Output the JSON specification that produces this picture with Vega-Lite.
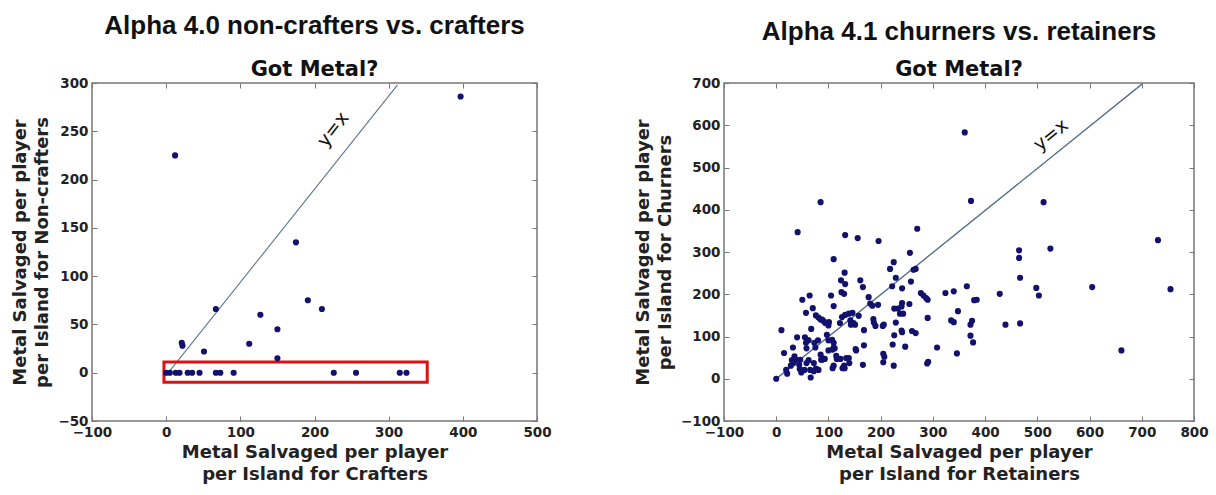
{
  "$schema": "https://vega.github.io/schema/vega-lite/v6.json",
  "background": "white",
  "padding": {"left": 11, "top": 12, "right": 5, "bottom": 5},
  "config": {
    "view": {"stroke": "#777", "strokeWidth": 1.5},
    "concat": {"spacing": 81},
    "axis": {
      "labelFont": "DejaVu Sans", "labelFontWeight": "bold", "labelFontSize": 13.5, "labelColor": "#222",
      "titleFont": "DejaVu Sans", "titleFontWeight": "bold", "titleFontSize": 18, "titleColor": "#222", "titleLineHeight": 22,
      "tickColor": "#777", "tickSize": -5, "tickWidth": 1, "domain": false, "grid": false,
      "labelPadding": 9, "labelFlush": false, "labelOverlap": false
    },
    "title": {
      "font": "Liberation Sans", "fontSize": 26, "fontWeight": "bold", "color": "#111",
      "subtitleFont": "DejaVu Sans", "subtitleFontSize": 21, "subtitleFontWeight": "bold", "subtitleColor": "#111",
      "subtitlePadding": 20, "offset": -4, "anchor": "middle"
    }
  },
  "datasets": {
    "lp": [
      {"x": 12, "y": 225}, {"x": 175, "y": 135}, {"x": 397, "y": 286}, {"x": 67, "y": 66},
      {"x": 21, "y": 31}, {"x": 22, "y": 28}, {"x": 51, "y": 22}, {"x": 112, "y": 30},
      {"x": 127, "y": 60}, {"x": 150, "y": 45}, {"x": 150, "y": 15}, {"x": 191, "y": 75},
      {"x": 210, "y": 66},
      {"x": 0, "y": 0}, {"x": 5, "y": 0}, {"x": 13, "y": 0}, {"x": 18, "y": 0}, {"x": 29, "y": 0},
      {"x": 35, "y": 0}, {"x": 45, "y": 0}, {"x": 67, "y": 0}, {"x": 73, "y": 0}, {"x": 91, "y": 0},
      {"x": 226, "y": 0}, {"x": 256, "y": 0}, {"x": 315, "y": 0}, {"x": 324, "y": 0}
    ],
    "ll": [{"x": 3, "y": 0}, {"x": 312, "y": 298}],
    "lbox": [{"x1": -3, "x2": 352, "y1": -10, "y2": 11}],
    "lt": [{"x": 225, "y": 252, "t": "y=x"}],
    "rp": [
      {"x": 361, "y": 583}, {"x": 85, "y": 418}, {"x": 373, "y": 421}, {"x": 512, "y": 418},
      {"x": 41, "y": 347}, {"x": 132, "y": 340}, {"x": 156, "y": 333}, {"x": 196, "y": 326},
      {"x": 270, "y": 355}, {"x": 256, "y": 298}, {"x": 465, "y": 304}, {"x": 525, "y": 308},
      {"x": 731, "y": 328}, {"x": 465, "y": 286}, {"x": 225, "y": 276}, {"x": 110, "y": 283},
      {"x": 218, "y": 260}, {"x": 263, "y": 258}, {"x": 267, "y": 260}, {"x": 131, "y": 251},
      {"x": 467, "y": 239}, {"x": 229, "y": 239}, {"x": 124, "y": 233}, {"x": 132, "y": 224},
      {"x": 161, "y": 233}, {"x": 258, "y": 230}, {"x": 166, "y": 217}, {"x": 222, "y": 219},
      {"x": 241, "y": 214}, {"x": 365, "y": 219}, {"x": 605, "y": 217}, {"x": 755, "y": 212},
      {"x": 498, "y": 215}, {"x": 503, "y": 197}, {"x": 428, "y": 201}, {"x": 324, "y": 203},
      {"x": 340, "y": 207}, {"x": 384, "y": 187}, {"x": 379, "y": 186}, {"x": 277, "y": 203},
      {"x": 282, "y": 197}, {"x": 287, "y": 191}, {"x": 290, "y": 187}, {"x": 125, "y": 205},
      {"x": 130, "y": 201}, {"x": 105, "y": 197}, {"x": 50, "y": 187}, {"x": 64, "y": 197},
      {"x": 177, "y": 193}, {"x": 180, "y": 178}, {"x": 184, "y": 173}, {"x": 195, "y": 175},
      {"x": 255, "y": 177}, {"x": 241, "y": 179}, {"x": 240, "y": 171}, {"x": 226, "y": 166},
      {"x": 233, "y": 166}, {"x": 237, "y": 154}, {"x": 110, "y": 172}, {"x": 70, "y": 167},
      {"x": 57, "y": 156}, {"x": 76, "y": 150}, {"x": 81, "y": 145}, {"x": 85, "y": 140},
      {"x": 91, "y": 136}, {"x": 94, "y": 132}, {"x": 139, "y": 154}, {"x": 146, "y": 156},
      {"x": 132, "y": 151}, {"x": 126, "y": 146}, {"x": 122, "y": 132}, {"x": 142, "y": 138},
      {"x": 148, "y": 132}, {"x": 143, "y": 128}, {"x": 151, "y": 128}, {"x": 158, "y": 149},
      {"x": 168, "y": 115}, {"x": 186, "y": 141}, {"x": 187, "y": 133}, {"x": 190, "y": 125},
      {"x": 206, "y": 128}, {"x": 204, "y": 125}, {"x": 229, "y": 133}, {"x": 243, "y": 154},
      {"x": 226, "y": 103}, {"x": 223, "y": 81}, {"x": 205, "y": 59}, {"x": 207, "y": 52},
      {"x": 205, "y": 39}, {"x": 225, "y": 31}, {"x": 240, "y": 114}, {"x": 241, "y": 110},
      {"x": 247, "y": 76}, {"x": 260, "y": 113}, {"x": 267, "y": 108}, {"x": 168, "y": 79},
      {"x": 166, "y": 33}, {"x": 152, "y": 70}, {"x": 153, "y": 67}, {"x": 139, "y": 49},
      {"x": 140, "y": 37}, {"x": 130, "y": 31}, {"x": 131, "y": 25}, {"x": 115, "y": 54},
      {"x": 116, "y": 47}, {"x": 112, "y": 72}, {"x": 108, "y": 69}, {"x": 100, "y": 67},
      {"x": 100, "y": 91}, {"x": 107, "y": 92}, {"x": 110, "y": 85}, {"x": 110, "y": 74},
      {"x": 97, "y": 104}, {"x": 101, "y": 134}, {"x": 100, "y": 126}, {"x": 88, "y": 140},
      {"x": 80, "y": 91}, {"x": 73, "y": 85}, {"x": 75, "y": 74}, {"x": 85, "y": 57},
      {"x": 88, "y": 49}, {"x": 88, "y": 45}, {"x": 72, "y": 37}, {"x": 81, "y": 21},
      {"x": 76, "y": 24}, {"x": 66, "y": 3}, {"x": 62, "y": 44}, {"x": 58, "y": 37},
      {"x": 48, "y": 15}, {"x": 54, "y": 21}, {"x": 58, "y": 72}, {"x": 57, "y": 85},
      {"x": 62, "y": 91}, {"x": 55, "y": 98}, {"x": 59, "y": 92}, {"x": 67, "y": 118},
      {"x": 40, "y": 98}, {"x": 32, "y": 74}, {"x": 15, "y": 61}, {"x": 10, "y": 115},
      {"x": 35, "y": 53}, {"x": 38, "y": 45}, {"x": 30, "y": 44}, {"x": 33, "y": 37},
      {"x": 28, "y": 31}, {"x": 19, "y": 21}, {"x": 21, "y": 12}, {"x": 0, "y": 0},
      {"x": 46, "y": 45}, {"x": 44, "y": 33}, {"x": 45, "y": 23}, {"x": 65, "y": 21},
      {"x": 72, "y": 18}, {"x": 123, "y": 47}, {"x": 134, "y": 49}, {"x": 127, "y": 25},
      {"x": 110, "y": 31}, {"x": 108, "y": 25}, {"x": 93, "y": 47}, {"x": 86, "y": 45},
      {"x": 289, "y": 36}, {"x": 291, "y": 40}, {"x": 308, "y": 74}, {"x": 346, "y": 60},
      {"x": 335, "y": 138}, {"x": 340, "y": 134}, {"x": 348, "y": 160}, {"x": 372, "y": 128},
      {"x": 375, "y": 137}, {"x": 372, "y": 102}, {"x": 377, "y": 86}, {"x": 439, "y": 128},
      {"x": 467, "y": 131}, {"x": 661, "y": 67}, {"x": 290, "y": 144}
    ],
    "rl": [{"x": 0, "y": 0}, {"x": 700, "y": 697}],
    "rt": [{"x": 526, "y": 577, "t": "y=x"}]
  },
  "hconcat": [
    {
      "width": 445, "height": 338,
      "title": {"text": "Alpha 4.0 non-crafters vs. crafters", "subtitle": "Got Metal?"},
      "resolve": {"axis": {"x": "independent", "y": "independent"}},
      "layer": [
        {
          "data": {"name": "ll"},
          "mark": {"type": "line", "color": "#5b7590", "strokeWidth": 1.1},
          "encoding": {
            "x": {"field": "x", "type": "quantitative", "scale": {"domain": [-100, 500], "nice": false, "zero": false},
                  "axis": {"values": [-100, 0, 100, 200, 300, 400, 500], "title": ["Metal Salvaged per player", "per Island for Crafters"], "titlePadding": 5}},
            "y": {"field": "y", "type": "quantitative", "scale": {"domain": [-50, 300], "nice": false, "zero": false},
                  "axis": {"values": [-50, 0, 50, 100, 150, 200, 250, 300], "title": ["Metal Salvaged per player", "per Island for Non-crafters"], "titlePadding": 6}}
          }
        },
        {
          "data": {"name": "lbox"},
          "mark": {"type": "rect", "fill": null, "fillOpacity": 0, "stroke": "#e01010", "strokeWidth": 3},
          "encoding": {
            "x": {"field": "x1", "type": "quantitative", "scale": {"domain": [-100, 500], "nice": false, "zero": false},
                  "axis": {"orient": "top", "values": [-100, 0, 100, 200, 300, 400, 500], "labels": false, "title": null}},
            "x2": {"field": "x2"},
            "y": {"field": "y1", "type": "quantitative", "scale": {"domain": [-50, 300], "nice": false, "zero": false},
                  "axis": {"orient": "right", "values": [-50, 0, 50, 100, 150, 200, 250, 300], "labels": false, "title": null}},
            "y2": {"field": "y2"}
          }
        },
        {
          "data": {"name": "lp"},
          "mark": {"type": "circle", "size": 38, "color": "#12126e", "opacity": 1},
          "encoding": {
            "x": {"field": "x", "type": "quantitative", "scale": {"domain": [-100, 500], "nice": false, "zero": false}, "axis": null},
            "y": {"field": "y", "type": "quantitative", "scale": {"domain": [-50, 300], "nice": false, "zero": false}, "axis": null}
          }
        },
        {
          "data": {"name": "lt"},
          "mark": {"type": "text", "font": "DejaVu Sans", "fontSize": 19, "angle": -52, "color": "#111", "align": "center", "baseline": "middle"},
          "encoding": {
            "x": {"field": "x", "type": "quantitative", "scale": {"domain": [-100, 500], "nice": false, "zero": false}, "axis": null},
            "y": {"field": "y", "type": "quantitative", "scale": {"domain": [-50, 300], "nice": false, "zero": false}, "axis": null},
            "text": {"field": "t"}
          }
        }
      ]
    },
    {
      "width": 470, "height": 338,
      "title": {"text": "Alpha 4.1 churners vs. retainers", "subtitle": "Got Metal?", "subtitlePadding": 14},
      "resolve": {"axis": {"x": "independent", "y": "independent"}},
      "layer": [
        {
          "data": {"name": "rl"},
          "mark": {"type": "line", "color": "#5b7590", "strokeWidth": 1.1},
          "encoding": {
            "x": {"field": "x", "type": "quantitative", "scale": {"domain": [-100, 800], "nice": false, "zero": false},
                  "axis": {"values": [-100, 0, 100, 200, 300, 400, 500, 600, 700, 800], "title": ["Metal Salvaged per player", "per Island for Retainers"], "titlePadding": 5}},
            "y": {"field": "y", "type": "quantitative", "scale": {"domain": [-100, 700], "nice": false, "zero": false},
                  "axis": {"values": [-100, 0, 100, 200, 300, 400, 500, 600, 700], "title": ["Metal Salvaged per player", "per Island for Churners"], "titlePadding": 6}}
          }
        },
        {
          "data": {"name": "rl"},
          "mark": {"type": "line", "color": "#5b7590", "strokeWidth": 1.1},
          "encoding": {
            "x": {"field": "x", "type": "quantitative", "scale": {"domain": [-100, 800], "nice": false, "zero": false},
                  "axis": {"orient": "top", "values": [-100, 0, 100, 200, 300, 400, 500, 600, 700, 800], "labels": false, "title": null}},
            "y": {"field": "y", "type": "quantitative", "scale": {"domain": [-100, 700], "nice": false, "zero": false},
                  "axis": {"orient": "right", "values": [-100, 0, 100, 200, 300, 400, 500, 600, 700], "labels": false, "title": null}}
          }
        },
        {
          "data": {"name": "rp"},
          "mark": {"type": "circle", "size": 38, "color": "#12126e", "opacity": 1},
          "encoding": {
            "x": {"field": "x", "type": "quantitative", "scale": {"domain": [-100, 800], "nice": false, "zero": false}, "axis": null},
            "y": {"field": "y", "type": "quantitative", "scale": {"domain": [-100, 700], "nice": false, "zero": false}, "axis": null}
          }
        },
        {
          "data": {"name": "rt"},
          "mark": {"type": "text", "font": "DejaVu Sans", "fontSize": 19, "angle": -39, "color": "#111", "align": "center", "baseline": "middle"},
          "encoding": {
            "x": {"field": "x", "type": "quantitative", "scale": {"domain": [-100, 800], "nice": false, "zero": false}, "axis": null},
            "y": {"field": "y", "type": "quantitative", "scale": {"domain": [-100, 700], "nice": false, "zero": false}, "axis": null},
            "text": {"field": "t"}
          }
        }
      ]
    }
  ]
}
